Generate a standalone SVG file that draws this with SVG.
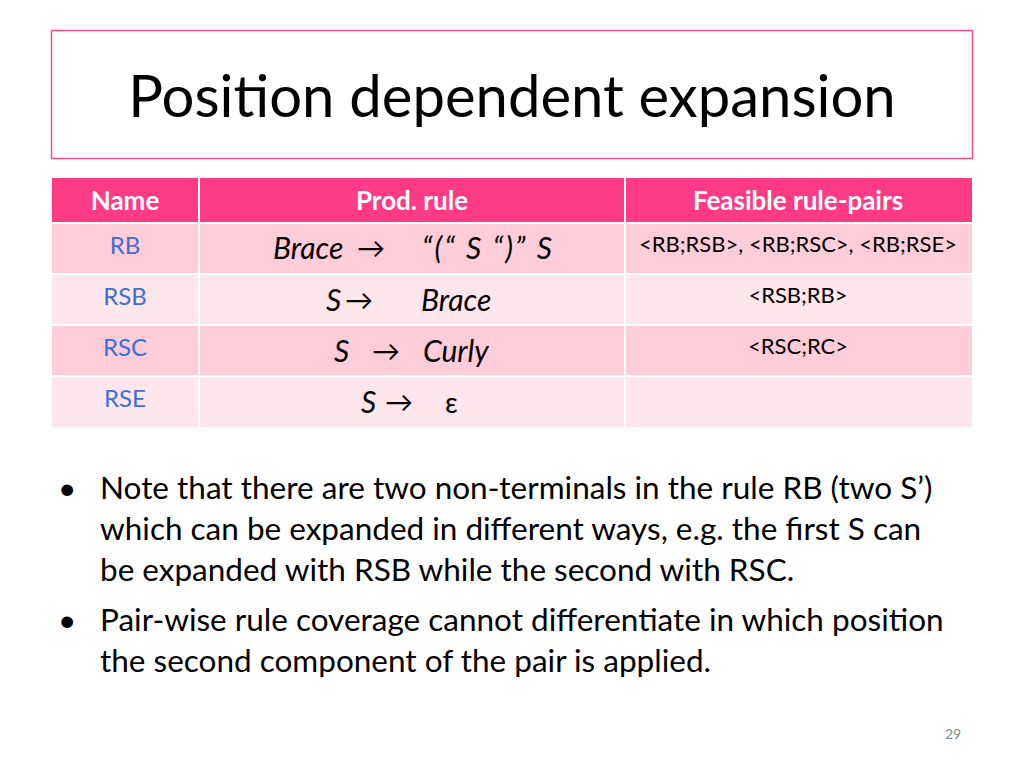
<svg xmlns="http://www.w3.org/2000/svg" width="1024" height="768" viewBox="0 0 1024 768">
<style>
text{font-family:Lato,"Open Sans",sans-serif}
.h{fill:#fff;font-weight:bold;font-size:26px;text-anchor:middle}
.n{fill:#3a6fd8;font-size:24px;text-anchor:middle}
.r{fill:#000;font-style:italic;font-size:30px}
.a{fill:#000;font-size:28px}
.p{fill:#000;font-size:22px;text-anchor:middle}
.b{fill:#000;font-size:31.5px}
.o{fill:#ffccda}.e{fill:#ffe6ec}
</style>
<rect width="1024" height="768" fill="#fff"/>
<rect x="51.5" y="30.5" width="921" height="128" fill="#fff" stroke="#f0508a" stroke-width="1.5"/>
<text x="512" y="117" font-size="58" text-anchor="middle" fill="#000">Position dependent expansion</text>
<g id="table">
<rect x="52" y="178" width="920" height="44" fill="#ff3b85"/>
<rect x="52" y="224" width="920" height="49" class="o"/>
<rect x="52" y="275" width="920" height="49" class="e"/>
<rect x="52" y="326" width="920" height="49" class="o"/>
<rect x="52" y="377" width="920" height="50" class="e"/>
<g stroke="#fff" stroke-width="2"><line x1="199" y1="178" x2="199" y2="427"/><line x1="625" y1="178" x2="625" y2="427"/></g>
<text x="125" y="210" class="h">Name</text><text x="412" y="210" class="h">Prod. rule</text><text x="798" y="210" class="h">Feasible rule-pairs</text>
<text x="125" y="254" class="n">RB</text><text x="125" y="305" class="n">RSB</text><text x="125" y="356" class="n">RSC</text><text x="125" y="407" class="n">RSE</text>
<text x="273" y="259" class="r">Brace</text><text x="357" y="258" class="a">→</text><text x="422" y="259" class="r" textLength="130" lengthAdjust="spacing">“(“ S “)” S</text>
<text x="326" y="311" class="r">S</text><text x="345" y="310" class="a">→</text><text x="421" y="311" class="r">Brace</text>
<text x="334" y="362" class="r">S</text><text x="372" y="361" class="a">→</text><text x="423" y="362" class="r">Curly</text>
<text x="361" y="413" class="r">S</text><text x="385" y="412" class="a">→</text><text x="445" y="413" class="a">ε</text>
<text x="798" y="252" class="p">&lt;RB;RSB&gt;, &lt;RB;RSC&gt;, &lt;RB;RSE&gt;</text>
<text x="798" y="303" class="p">&lt;RSB;RB&gt;</text>
<text x="798" y="354" class="p">&lt;RSC;RC&gt;</text>
</g>
<g id="bullets">
<text x="58" y="499" class="b">•</text>
<text x="100" y="499" class="b">Note that there are two non-terminals in the rule RB (two S’)</text>
<text x="100" y="540" class="b">which can be expanded in different ways, e.g. the first S can</text>
<text x="100" y="581" class="b">be expanded with RSB while the second with RSC.</text>
<text x="58" y="631" class="b">•</text>
<text x="100" y="631" class="b">Pair-wise rule coverage cannot differentiate in which position</text>
<text x="100" y="672" class="b">the second component of the pair is applied.</text>
</g>
<text x="953" y="739" font-size="14" fill="#888" text-anchor="middle">29</text>
</svg>
